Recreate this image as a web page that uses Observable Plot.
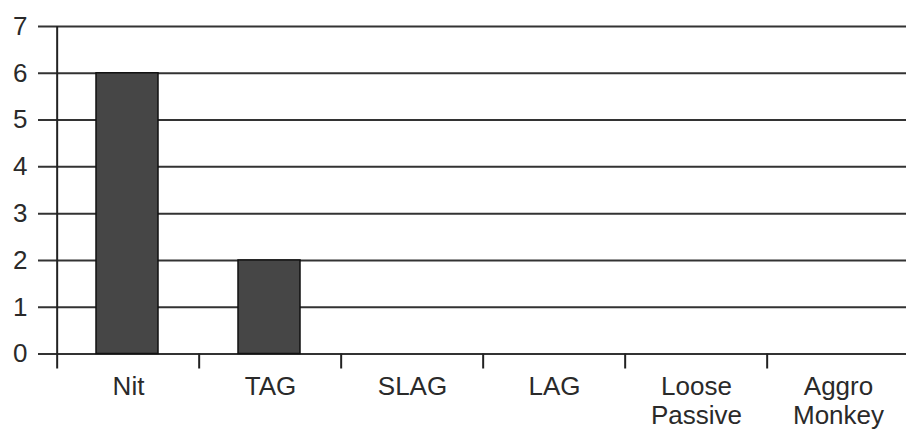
<!DOCTYPE html>
<html>
<head>
<meta charset="utf-8">
<script src="https://cdn.jsdelivr.net/npm/d3@7"></script>
<script src="https://cdn.jsdelivr.net/npm/@observablehq/plot@0.6"></script>
<style>
  html, body { margin: 0; padding: 0; background: #fff; }
</style>
</head>
<body>
<div id="chart"></div>
<script>
const categories = ["Nit", "TAG", "SLAG", "LAG", "Loose\nPassive", "Aggro\nMonkey"];
const counts = [6, 2, 0, 0, 0, 0];
const yTicks = [0, 1, 2, 3, 4, 5, 6, 7];

const data = categories.map((c, i) => ({cat: c, count: counts[i]}));
const xRange = [55, 911];
const step = (xRange[1] - xRange[0]) / categories.length;

const chart = Plot.plot({
  width: 906,
  height: 430,
  marginTop: 26,
  marginBottom: 76.5,
  marginLeft: 55,
  marginRight: 0,
  style: {fontFamily: "'Liberation Sans', Arial, sans-serif", fontSize: "26px", color: "#2a2a2a", background: "#fff"},
  x: {domain: categories, range: xRange, padding: 0},
  y: {domain: [0, 7]},
  marks: [
    Plot.ruleY(yTicks, {y: d => d, stroke: "#333", strokeWidth: 2, strokeOpacity: 1, insetLeft: -17}),
    Plot.barY(data.filter(d => d.count > 0), {x: "cat", y: "count", fill: "#464646", stroke: "#111", strokeWidth: 1.5, insetLeft: 39, insetRight: 41}),
    Plot.ruleX(categories.slice(0, 1), {x: d => d, dx: -step / 2, y1: 7, y2: 0, insetBottom: -15, stroke: "#222", strokeWidth: 2}),
    Plot.ruleX(categories.slice(1), {x: d => d, dx: -step / 2, y1: 0, y2: 0, insetBottom: -15, stroke: "#222", strokeWidth: 2}),
    Plot.axisX({tickSize: 0, tickPadding: 21, lineHeight: 1.1, fontSize: 26, label: null}),
    Plot.axisY({ticks: yTicks, tickFormat: d => String(d), tickSize: 0, tickPadding: 28, fontSize: 26, label: null})
  ]
});
document.getElementById("chart").appendChild(chart);
</script>
</body>
</html>
